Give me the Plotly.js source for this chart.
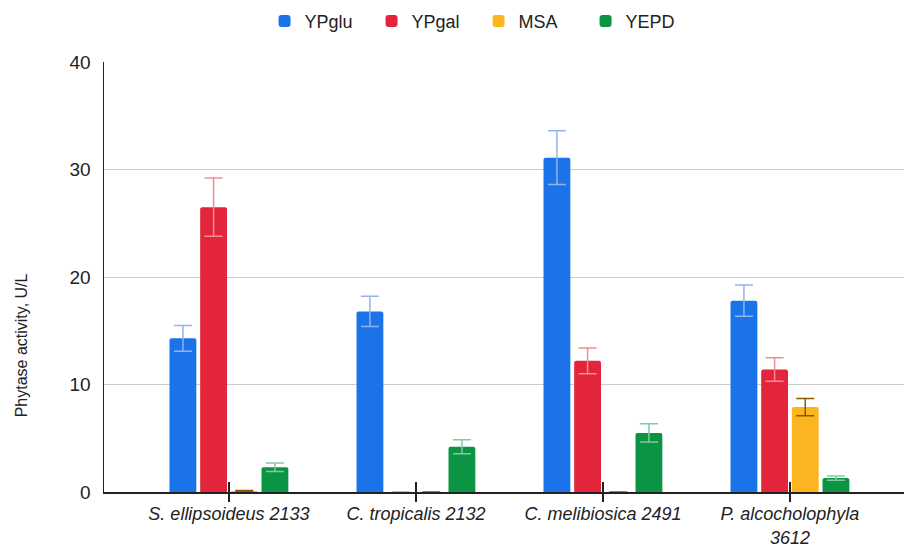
<!DOCTYPE html>
<html>
<head>
<meta charset="utf-8">
<script src="https://cdn.plot.ly/plotly-3.0.1.min.js"></script>
<style>html,body{margin:0;padding:0;background:#fff;}#chart{width:906px;height:548px;}</style>
</head>
<body>
<div id="chart"></div>
<script>
const categories = ["S. ellipsoideus 2133", "C. tropicalis 2132", "C. melibiosica 2491", "P. alcocholophyla<br>3612"];
const seriesNames = ["YPglu", "YPgal", "MSA", "YEPD"];
const ypglu = [14.3, 16.8, 31.1, 17.8];
const ypgluErr = [1.2, 1.4, 2.5, 1.45];
const ypgal = [26.5, 0, 12.2, 11.4];
const ypgalErr = [2.7, 0, 1.2, 1.1];
const msa = [0.1, 0, 0, 7.9];
const msaErr = [0.05, 0, 0, 0.8];
const yepd = [2.3, 4.2, 5.5, 1.3];
const yepdErr = [0.4, 0.65, 0.85, 0.2];
const yTitle = "Phytase activity, U/L";

const barColors = ["#1a73e8", "#e3253b", "#fbb521", "#0b9444"];
const errColors = ["#92b4ea", "#ef8d92", "#8a5a00", "#85c79e"];
const values = [ypglu, ypgal, msa, yepd];
const errs = [ypgluErr, ypgalErr, msaErr, yepdErr];

const traces = seriesNames.map((name, i) => ({
  type: "bar",
  name: name,
  x: categories,
  y: values[i],
  marker: {color: barColors[i], cornerradius: 2},
  error_y: {type: "data", array: errs[i], visible: true, color: errColors[i], thickness: 1.5, width: 9},
  hoverinfo: "none"
}));
// empty helper traces so the tick-only overlay axes get drawn
["x2", "x3"].forEach(ax => traces.push({
  type: "scatter", mode: "none", xaxis: ax, yaxis: "y", x: categories, y: categories.map(() => null),
  showlegend: false, hoverinfo: "skip"
}));

const xr = [-0.668, 3.61];
const tickAxis = (side) => ({overlaying: "x", anchor: "y", type: "category", categoryarray: categories, range: xr,
  ticks: side, ticklen: side === "inside" ? 10 : 9, tickcolor: "#222222", tickwidth: 1.2,
  showticklabels: false, showgrid: false, zeroline: false, showline: false});
const layout = {
  width: 906, height: 548,
  margin: {l: 104, r: 2, t: 62, b: 56},
  paper_bgcolor: "#ffffff", plot_bgcolor: "#ffffff",
  font: {family: "Liberation Sans, Arial, sans-serif", color: "#222222"},
  barmode: "group", bargap: 0.344, bargroupgap: 0.125,
  showlegend: true,
  legend: {orientation: "h", xref: "container", yref: "container", x: 0.292, xanchor: "left", y: 0.995, yanchor: "top",
           font: {size: 18, color: "#222222"}, entrywidth: 62, itemwidth: 30, traceorder: "normal"},
  xaxis: {type: "category", categoryarray: categories, range: xr, showline: true, linecolor: "#222222", linewidth: 1.5,
          ticks: "", ticklabelstandoff: 5, showgrid: false, zeroline: false,
          tickfont: {size: 18, style: "italic", color: "#222222"}, fixedrange: true},
  xaxis2: tickAxis("inside"),
  xaxis3: tickAxis("outside"),
  yaxis: {range: [0, 40], dtick: 10, tick0: 0, showline: true, linecolor: "#222222", linewidth: 1.5, ticks: "",
          gridcolor: "#cccccc", gridwidth: 1, zeroline: false, ticklabelstandoff: 8,
          tickfont: {size: 19, color: "#222222"}, fixedrange: true},
  annotations: [{text: yTitle, xref: "paper", yref: "paper", x: -0.102, y: 0.342, xanchor: "center", yanchor: "middle",
                 textangle: -90, showarrow: false, font: {size: 16, color: "#222222"}}]
};

Plotly.newPlot("chart", traces, layout, {displayModeBar: false, staticPlot: true});
</script>
</body>
</html>
